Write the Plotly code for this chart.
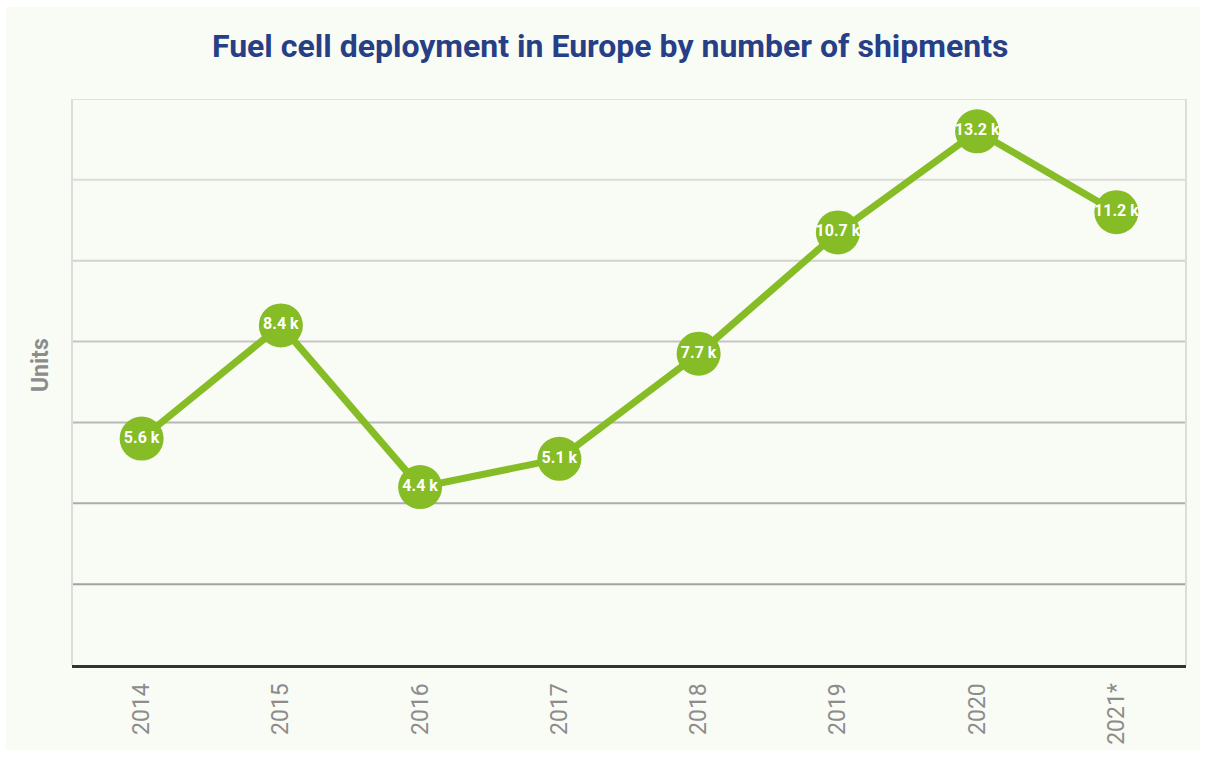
import plotly.graph_objects as go

years = ["2014", "2015", "2016", "2017", "2018", "2019", "2020", "2021*"]
shipments_k = [5.6, 8.4, 4.4, 5.1, 7.7, 10.7, 13.2, 11.2]
grid_levels = [2, 4, 6, 8, 10, 12, 14]
grid_colors = ["#a2a2a2", "#acacac", "#b8b8b8", "#c6c6c6", "#d2d2d2", "#dbdbdb", "#e0e0e0"]

GREEN = "#86bc25"
BG = "#f9fbf5"

fig = go.Figure()
fig.add_trace(go.Scatter(
    x=years,
    y=shipments_k,
    mode="lines+markers+text",
    line=dict(color=GREEN, width=7),
    marker=dict(color=GREEN, size=44, line=dict(width=0)),
    text=[f"{v} k" for v in shipments_k],
    textposition="middle center",
    textfont=dict(family="Roboto", size=16, color="white", weight="bold"),
    hoverinfo="x+y",
    cliponaxis=False,
))

shapes = [
    # light panel behind the whole chart
    dict(type="rect", xref="paper", yref="paper",
         x0=-0.0592, x1=1.0126, y0=-0.150, y1=1.1625,
         fillcolor=BG, line=dict(width=0), layer="below"),
]
for lvl, col in zip(grid_levels, grid_colors):
    shapes.append(dict(type="line", xref="paper", yref="y", x0=0, x1=1, y0=lvl, y1=lvl,
                       line=dict(color=col, width=2), layer="below"))
# side borders of the plot area
for xp in (0, 1):
    shapes.append(dict(type="line", xref="paper", yref="paper", x0=xp, x1=xp, y0=0, y1=1,
                       line=dict(color="#dcdcdc", width=2), layer="below"))

fig.update_layout(
    width=1206, height=757,
    margin=dict(l=72, r=20, t=99, b=92),
    paper_bgcolor="white",
    plot_bgcolor=BG,
    showlegend=False,
    shapes=shapes,
    title=dict(
        text="Fuel cell deployment in Europe by number of shipments",
        x=0.506, xanchor="center", y=0.94, yanchor="middle",
        font=dict(family="Roboto", size=32, color="#263f86", weight="bold"),
    ),
    annotations=[dict(
        text="Units", xref="paper", yref="paper", x=-0.0287, y=0.53,
        xanchor="center", yanchor="middle", textangle=-90, showarrow=False,
        font=dict(family="Roboto", size=23, color="#8c8c8c", weight="bold"),
    )],
    xaxis=dict(
        type="category", range=[-0.5, 7.5],
        showgrid=False, zeroline=False,
        showline=True, linecolor="#333333", linewidth=3,
        ticks="", tickangle=-90, ticklabelstandoff=6,
        tickfont=dict(family="Roboto", size=23, color="#8c8c8c"),
    ),
    yaxis=dict(
        range=[0, 14], dtick=2,
        showgrid=False, zeroline=False, showticklabels=False, ticks="",
    ),
)

fig.write_html("out.html")
